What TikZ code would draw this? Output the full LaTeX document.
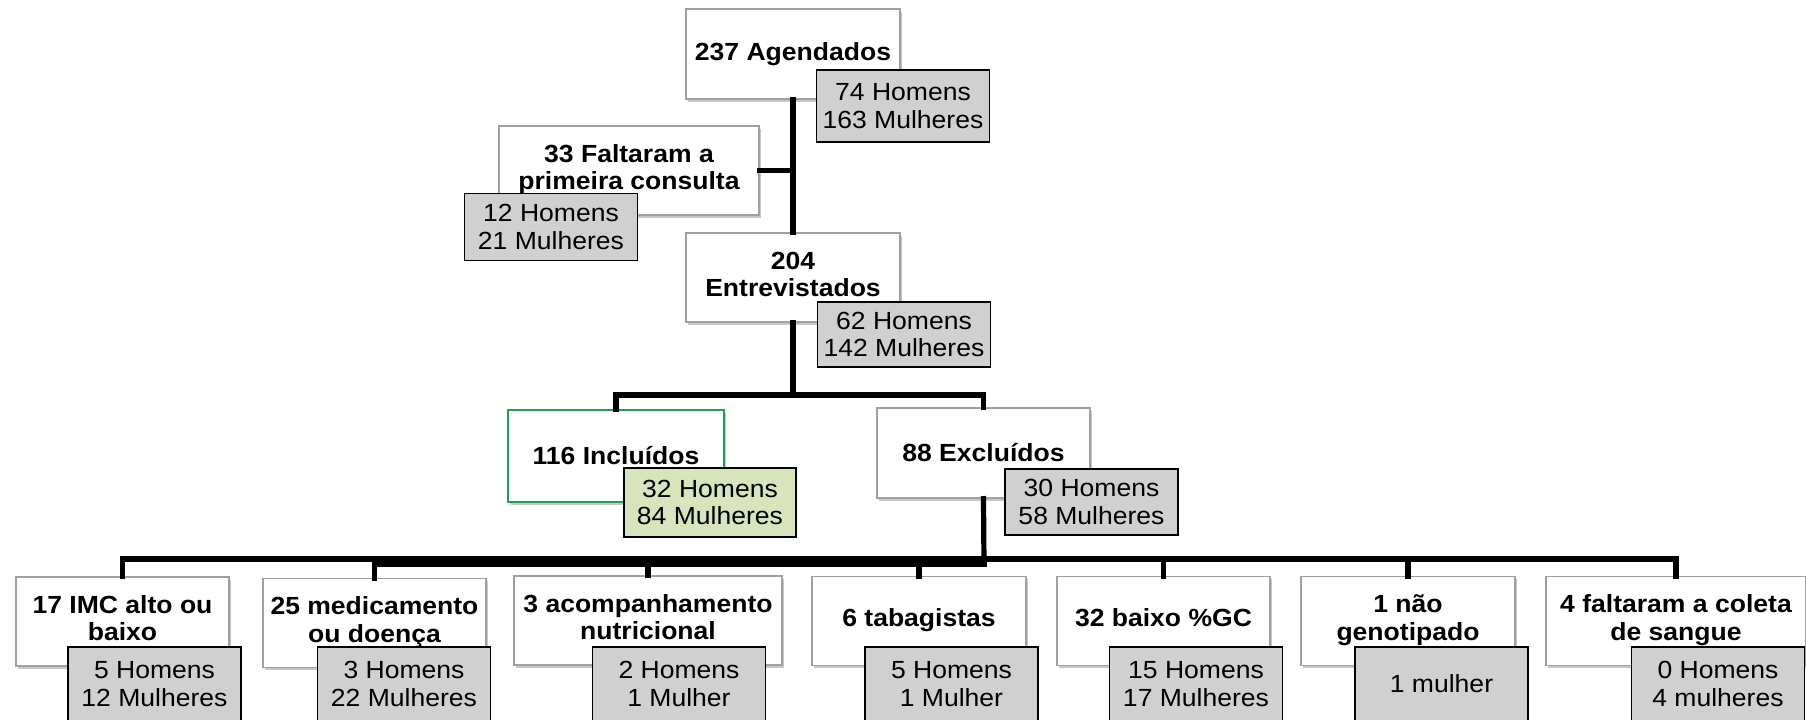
\documentclass[tikz,border=0pt]{standalone}
\usepackage{fontspec}
\setmainfont{Liberation Sans}[FakeStretch=1.07]
\usetikzlibrary{shadows}
\definecolor{grayfill}{RGB}{208,208,208}
\definecolor{greenfill}{RGB}{216,228,188}
\definecolor{greenline}{RGB}{30,160,85}
\definecolor{boxline}{RGB}{160,160,160}
\newcommand{\uptext}[2]{\raisebox{#1}{\begin{tabular}{@{}c@{}}#2\end{tabular}}}
\tikzset{
  wbox/.style={draw=boxline, fill=white, line width=0.6pt, align=center,
    inner sep=0pt, font=\fontsize{12.4}{13.8}\selectfont\bfseries,
    drop shadow={shadow xshift=1.2pt, shadow yshift=-1.4pt, fill=black, opacity=0.22}},
  gbox/.style={draw=black, fill=grayfill, line width=0.9pt, align=center,
    inner sep=0pt, minimum width=86.5pt, minimum height=33.5pt,
    font=\fontsize{12.4}{13.8}\selectfont},
  gboxlow/.style={gbox, minimum height=37pt},
  link/.style={draw=black, line width=2.6pt, line cap=rect},
}
\begin{document}
\begin{tikzpicture}[x=0.5pt,y=-0.5pt]
\useasboundingbox (0,0) rectangle (1806,719);
\clip (0,0) rectangle (1806,719);
\fill[white] (0,0) rectangle (1806,719);

% ---- top part nodes
\node[wbox, minimum width=107pt, minimum height=45pt] (ag) at (793,54) {237 Agendados};
\node[wbox, minimum width=130pt, minimum height=44.5pt] (falt) at (629,170.5) {\uptext{0.8pt}{33 Faltaram a\\primeira consulta}};
\node[wbox, minimum width=107pt, minimum height=44.5pt] (ent) at (793,277.5) {\uptext{1pt}{204\\Entrevistados}};
\node[wbox, draw=greenline, line width=1pt, minimum width=108pt, minimum height=46pt] (inc) at (616,456) {116 Incluídos};
\node[wbox, minimum width=106.5pt, minimum height=45pt] (exc) at (983.5,453) {88 Excluídos};

% ---- bottom row white boxes
\node[wbox, minimum width=106.5pt, minimum height=44.5pt] (imc) at (122.5,621.5) {\uptext{2.2pt}{17 IMC alto ou\\baixo}};
\node[wbox, minimum width=111.5pt, minimum height=44.5pt] (med) at (374.5,623) {\uptext{2.2pt}{25 medicamento\\ou doença}};
\node[wbox, minimum width=134pt, minimum height=44.5pt] (aco) at (648,620.5) {\uptext{2.2pt}{3 acompanhamento\\nutricional}};
\node[wbox, minimum width=107pt, minimum height=44.5pt] (tab) at (919,621) {\uptext{1.5pt}{6 tabagistas}};
\node[wbox, minimum width=106.5pt, minimum height=44.5pt] (bai) at (1163.5,621) {\uptext{1.5pt}{32 baixo \%GC}};
\node[wbox, minimum width=107pt, minimum height=44.5pt] (nao) at (1408,621) {\uptext{2.2pt}{1 não\\genotipado}};
\node[wbox, minimum width=130pt, minimum height=44.5pt] (fco) at (1676,621) {\uptext{2.2pt}{4 faltaram a coleta\\de sangue}};

% ---- connectors
\coordinate (j1) at (793,395);
\coordinate (j2) at (984,559);
\coordinate (j3) at (984,564);
\draw[link] (ag.south) -- (ent.north);
\draw[link] (falt.east) -- (falt.east -| ag.south);
\draw[link] (ent.south) -- (j1);
\draw[link] (inc.north) |- (j1);
\draw[link] (exc.north) |- (j1);
\draw[link] (exc.south) -- (j3);
\draw[link] (imc.north |- j2) -- (fco.north |- j2);
\draw[link] (med.north |- j3) -- (j3);
\foreach \n in {imc,med,aco,tab,bai,nao,fco}{
  \draw[link] (\n.north) -- (\n.north |- j2);
}

% ---- gray count boxes
\node[gbox, minimum height=36pt] (agG) at (903,106) {74 Homens\\163 Mulheres};
\node[gbox] (faltG) at (551,227) {12 Homens\\21 Mulheres};
\node[gbox, minimum height=32.5pt] (entG) at (904,334.5) {62 Homens\\142 Mulheres};
\node[gbox, fill=greenfill, minimum width=86pt, minimum height=34.5pt] (incG) at (710,502.5) {32 Homens\\84 Mulheres};
\node[gbox, minimum height=33pt] (excG) at (1091.5,502) {30 Homens\\58 Mulheres};

\node[gboxlow] (imcG) at (154.5,684) {5 Homens\\12 Mulheres};
\node[gboxlow] (medG) at (404,684) {3 Homens\\22 Mulheres};
\node[gboxlow] (acoG) at (679,684) {2 Homens\\1 Mulher};
\node[gboxlow] (tabG) at (951.5,684) {5 Homens\\1 Mulher};
\node[gboxlow] (baiG) at (1196,684) {15 Homens\\17 Mulheres};
\node[gboxlow] (naoG) at (1441.5,684) {1 mulher};
\node[gboxlow] (fcoG) at (1718,684) {0 Homens\\4 mulheres};
\end{tikzpicture}
\end{document}
